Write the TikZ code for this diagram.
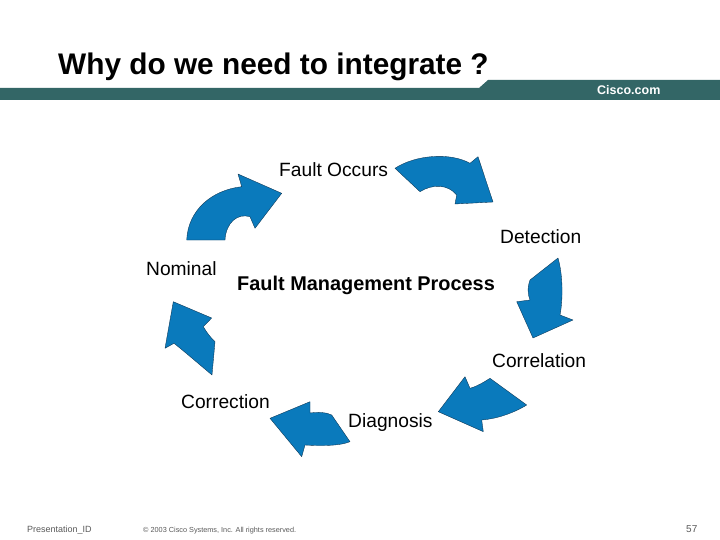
\documentclass[tikz,border=0pt]{standalone}
\usepackage{fontspec}
\setmainfont{Liberation Sans}
\definecolor{arrowblue}{RGB}{10,122,188}
\definecolor{arrowedge}{RGB}{10,50,80}
\definecolor{barteal}{RGB}{51,102,102}
\definecolor{footgray}{RGB}{90,90,90}
\tikzset{
  cyclearrow/.style={fill=arrowblue, draw=arrowedge, line width=0.35pt, line join=round},
  lbl/.style={anchor=base west, inner sep=0pt, font=\fontsize{19.2}{22}\selectfont},
  boldlbl/.style={anchor=base west, inner sep=0pt, font=\fontsize{19.9}{22}\selectfont\bfseries},
  foot/.style={anchor=base west, inner sep=0pt, text=footgray}
}
\begin{document}
\begin{tikzpicture}[x=1pt,y=-1pt]
\useasboundingbox (0,0) rectangle (720,540);
\fill[white] (0,0) rectangle (720,540);
% header
\node[anchor=base west, inner sep=0pt, font=\fontsize{29.8}{34}\selectfont\bfseries] (title) at (58,75) {Why do we need to integrate ?};
\fill[barteal] (0,88) -- (479,88) -- (488,80) -- (720,80) -- (720,100) -- (0,100) -- cycle;
\node[anchor=base west, inner sep=0pt, text=white, font=\fontsize{12.5}{14}\selectfont\bfseries] (cisco) at (597,95) {Cisco.com};
% arrows
\path[cyclearrow] (186.7,240) .. controls (188,210) and (212,190) .. (241.7,186.7) -- (238,174) -- (281.7,193.3) -- (255,228.3) -- (250,216.7) .. controls (238,213) and (226,222) .. (225,240) -- cycle;
\path[cyclearrow] (395,168.3) .. controls (415,155) and (450,152) .. (470,163.3) -- (478,156.7) -- (493,202) -- (455,204) -- (456.7,195) .. controls (448,184) and (432,184) .. (420,191.7) -- cycle;
\path[cyclearrow] (558,258) -- (530,280) .. controls (527,288) and (528,295) .. (530,300) -- (516.7,301.7) -- (533,338) -- (573,320) -- (560,315) .. controls (563,300) and (563,275) .. (558,258) -- cycle;
\path[cyclearrow] (438.3,411.7) -- (465,376.7) -- (470,388.3) .. controls (478,386) and (484,382) .. (490,378.3) -- (526.7,405) .. controls (512,414) and (495,419) .. (481.7,420) -- (483.3,431.7) -- cycle;
\path[cyclearrow] (270,418.3) -- (310,401.7) -- (310,413) .. controls (318,412) and (326,412) .. (331.7,415) -- (350,441.7) .. controls (340,446) and (320,446) .. (305,445) -- (301.7,456.7) -- cycle;
\path[cyclearrow] (173.3,301.7) -- (211.7,318) -- (203.3,326.7) .. controls (207,333) and (211,338) .. (215,341.7) -- (212,375) .. controls (200,365) and (185,352) .. (174,343.3) -- (165,348.3) -- cycle;
% labels
\node[lbl] (fault) at (279,176.5) {Fault Occurs};
\node[lbl] (detect) at (500,243.5) {Detection};
\node[lbl] (nominal) at (146,275.5) {Nominal};
\node[boldlbl] (fmp) at (237,290) {Fault Management Process};
\node[lbl] (correl) at (492,367.5) {Correlation};
\node[lbl] (correc) at (181,408.5) {Correction};
\node[lbl] (diag) at (348,427.5) {Diagnosis};
% footer
\node[foot, font=\fontsize{9}{10}\selectfont] (pres) at (27,532) {Presentation\_ID};
\node[foot, font=\fontsize{7.3}{8}\selectfont] (copy) at (143,532) {\textcopyright{} 2003 Cisco Systems, Inc. All rights reserved.};
\node[foot, font=\fontsize{10}{11}\selectfont] (page) at (686,532) {57};
\end{tikzpicture}
\end{document}
